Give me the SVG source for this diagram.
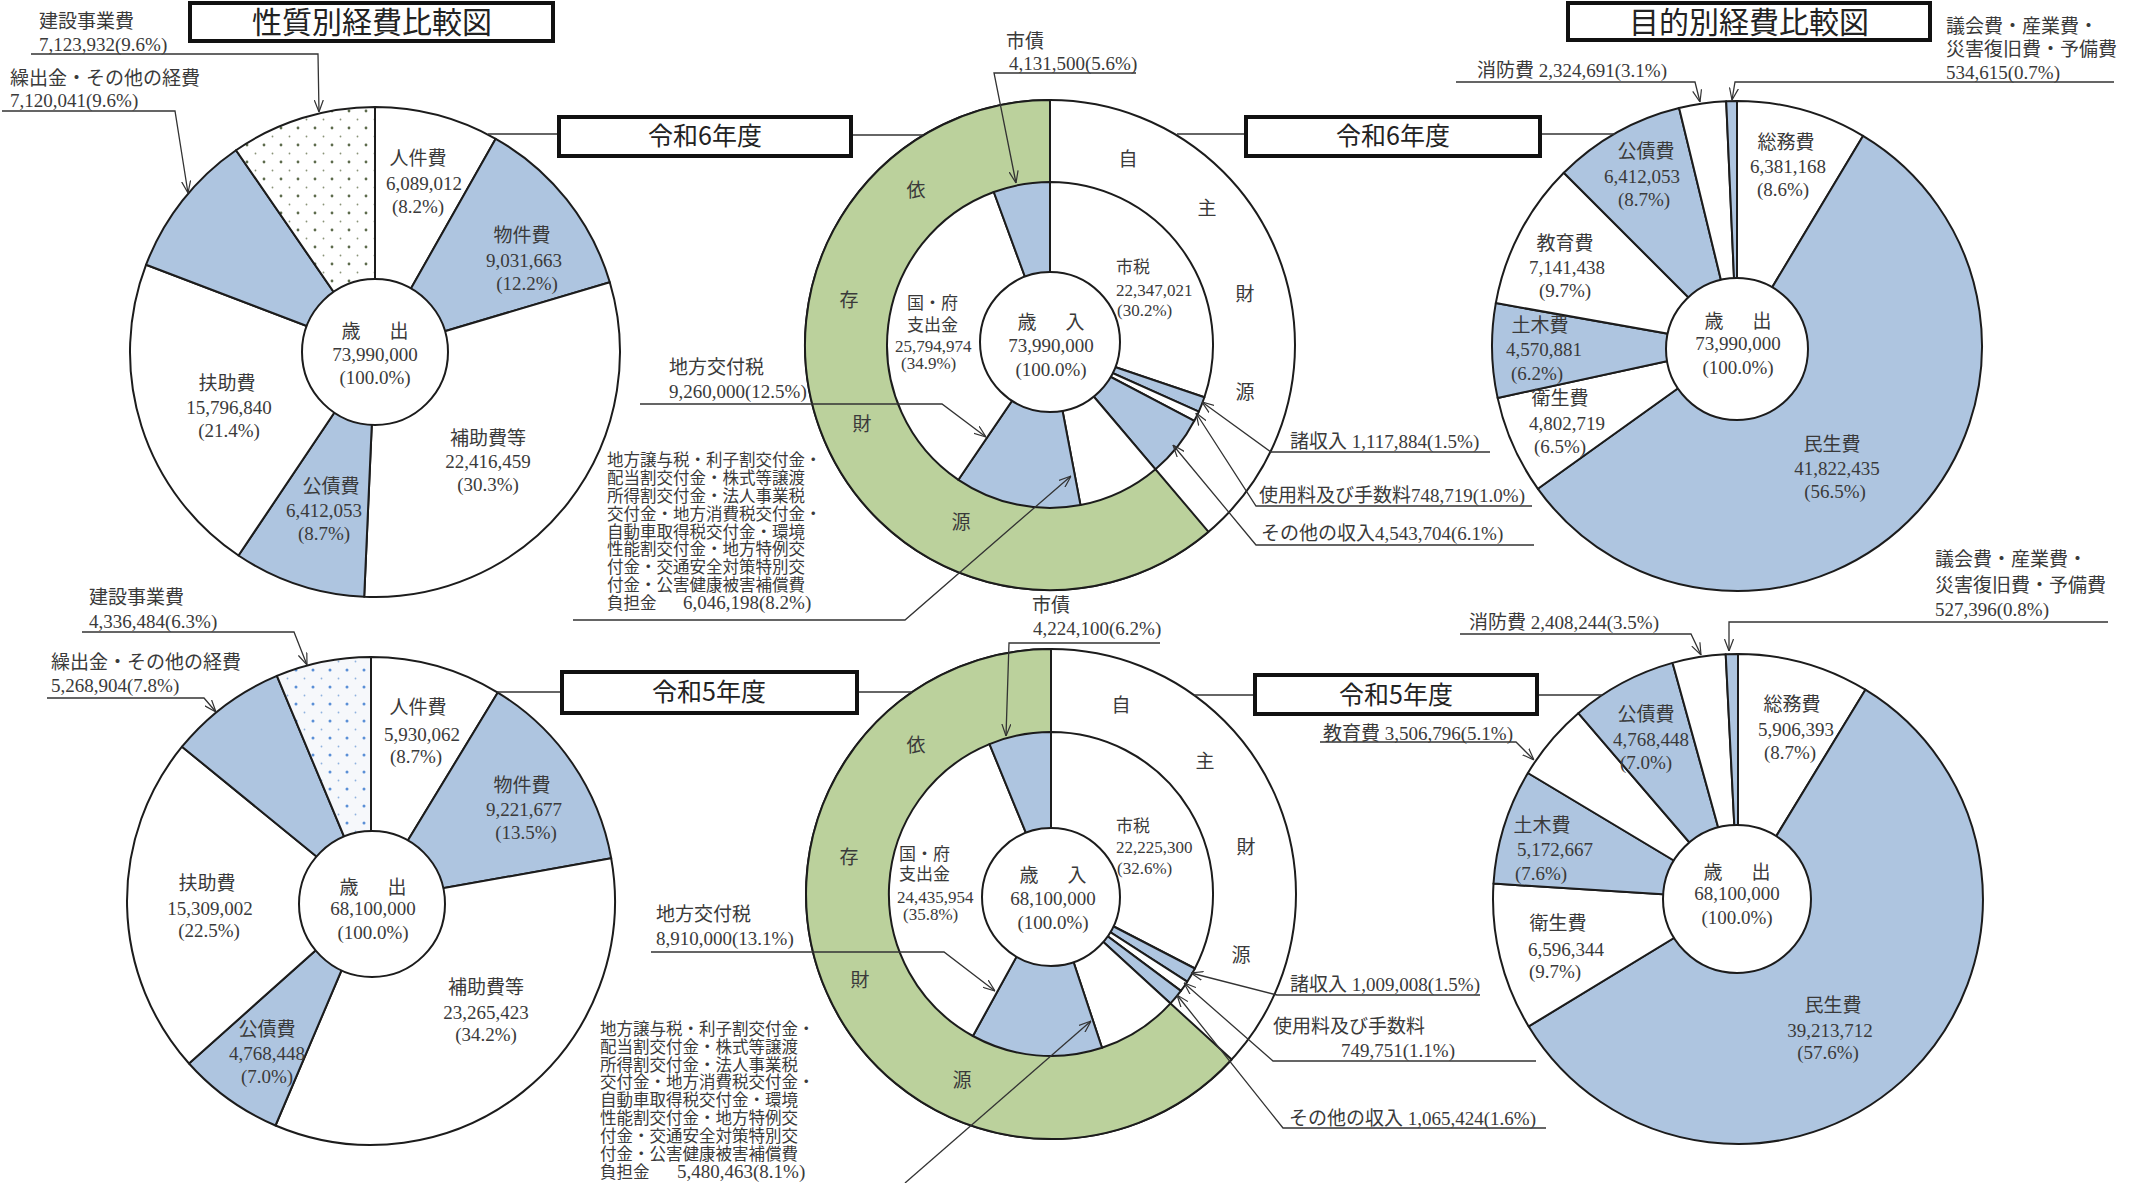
<svg xmlns="http://www.w3.org/2000/svg" width="2129" height="1183" viewBox="0 0 2129 1183">
<defs>
<style>
.s{stroke:#1c1c1c;stroke-width:2;stroke-linejoin:round}
.w{fill:#fff}.b{fill:#aec5e0}.g{fill:#bbd19c}
.t{font-family:"Liberation Serif","Noto Sans CJK JP",serif;font-size:19px;fill:#3a3a3a}
.m{text-anchor:middle}
.k{font-size:17px}
.blk{font-family:"Noto Sans CJK JP","Liberation Serif",sans-serif;font-size:16.5px;fill:#3a3a3a}
.ttl{font-family:"Noto Sans CJK JP",sans-serif;font-size:30px;fill:#222;text-anchor:middle}
.yr{font-family:"Noto Sans CJK JP",sans-serif;font-size:25px;fill:#222;text-anchor:middle}
.box{fill:#fff;stroke:#111;stroke-width:4}
.ln{fill:none;stroke:#333;stroke-width:1.3}
.ul{fill:none;stroke:#444;stroke-width:1.6}
.ar{marker-end:url(#ah)}
</style>
<marker id="ah" viewBox="0 0 12 10" refX="12" refY="5" markerWidth="12" markerHeight="10" markerUnits="userSpaceOnUse" orient="auto"><path d="M0,0.5 L12,5 L0,9.5" fill="none" stroke="#333" stroke-width="1.2"/></marker>
<pattern id="dotG" width="17" height="17" patternUnits="userSpaceOnUse" x="5" y="5"><rect width="17" height="17" fill="#fff"/><circle cx="4" cy="4" r="1.4" fill="#5d6b4c"/><circle cx="12.5" cy="12.5" r="0.9" fill="#8a9478"/></pattern>
<pattern id="dotB" width="17" height="17" patternUnits="userSpaceOnUse" x="3" y="3"><rect width="17" height="17" fill="#f6f8fb"/><circle cx="4" cy="4" r="1.5" fill="#5a8fd6"/><circle cx="12.5" cy="12.5" r="0.9" fill="#8fb2df"/></pattern>
</defs>
<rect width="2129" height="1183" fill="#fff"/>

<g id="title-left"><rect class="box" x="190" y="3" width="363" height="38"/><text class="ttl" x="372" y="33">性質別経費比較図</text></g>
<g id="title-right"><rect class="box" x="1568" y="3" width="362" height="37"/><text class="ttl" x="1749" y="33">目的別経費比較図</text></g>

<!-- Chart A -->
<g id="pie-seishitsu-r6">
<path class="s w" d="M375,352 L375,107 A245,245 0 0 1 495.7,138.8 Z"/>
<path class="s b" d="M375,352 L495.7,138.8 A245,245 0 0 1 609.8,282.2 Z"/>
<path class="s w" d="M375,352 L609.8,282.2 A245,245 0 0 1 364.2,596.8 Z"/>
<path class="s b" d="M375,352 L364.2,596.8 A245,245 0 0 1 238.5,555.5 Z"/>
<path class="s w" d="M375,352 L238.5,555.5 A245,245 0 0 1 146.1,264.7 Z"/>
<path class="s b" d="M375,352 L146.1,264.7 A245,245 0 0 1 236.0,150.2 Z"/>
<path class="s" fill="url(#dotG)" d="M375,352 L236.0,150.2 A245,245 0 0 1 375,107 Z"/>
<circle class="s w" cx="375" cy="352" r="73"/>
<text class="t m" x="418" y="165">人件費</text><text class="t m" x="424" y="190">6,089,012</text><text class="t m" x="418" y="213">(8.2%)</text>
<text class="t m" x="522" y="242">物件費</text><text class="t m" x="524" y="267">9,031,663</text><text class="t m" x="527" y="290">(12.2%)</text>
<text class="t m"><tspan x="351" y="338">歳</tspan><tspan x="399" y="338">出</tspan></text><text class="t m" x="375" y="361">73,990,000</text><text class="t m" x="375" y="384">(100.0%)</text>
<text class="t m" x="227" y="390">扶助費</text><text class="t m" x="229" y="414">15,796,840</text><text class="t m" x="229" y="437">(21.4%)</text>
<text class="t m" x="488" y="445">補助費等</text><text class="t m" x="488" y="468">22,416,459</text><text class="t m" x="488" y="491">(30.3%)</text>
<text class="t m" x="331" y="493">公債費</text><text class="t m" x="324" y="517">6,412,053</text><text class="t m" x="324" y="540">(8.7%)</text>
<text class="t" x="39" y="28">建設事業費</text><text class="t" x="39" y="51">7,123,932(9.6%)</text>
<text class="t" x="10" y="85">繰出金・その他の経費</text><text class="t" x="10" y="107">7,120,041(9.6%)</text>
</g>

<!-- Chart B -->
<g id="donut-sainyu-r6">
<circle class="s w" cx="1050" cy="345" r="245"/>
<path class="s g" d="M1050,345 L1208.5,531.8 A245,245 0 1 1 1050,100 Z"/>
<path class="s w" d="M1050,345 L1050,182 A163,163 0 0 1 1204.4,397.3 Z"/>
<path class="s b" d="M1050,345 L1204.4,397.3 A163,163 0 0 1 1198.8,411.6 Z"/>
<path class="s w" d="M1050,345 L1198.8,411.6 A163,163 0 0 1 1194.3,420.8 Z"/>
<path class="s b" d="M1050,345 L1194.3,420.8 A163,163 0 0 1 1155.5,469.3 Z"/>
<path class="s w" d="M1050,345 L1155.5,469.3 A163,163 0 0 1 1080.5,505.1 Z"/>
<path class="s b" d="M1050,345 L1080.5,505.1 A163,163 0 0 1 958.4,479.8 Z"/>
<path class="s w" d="M1050,345 L958.4,479.8 A163,163 0 0 1 993.8,192.0 Z"/>
<path class="s b" d="M1050,345 L993.8,192.0 A163,163 0 0 1 1050,182 Z"/>
<circle class="s w" cx="1050" cy="342" r="70"/>
<text class="t m" x="1128" y="166">自</text><text class="t m" x="1207" y="215">主</text><text class="t m" x="1245" y="301">財</text><text class="t m" x="1245" y="399">源</text>
<text class="t m" x="916" y="197">依</text><text class="t m" x="849" y="307">存</text><text class="t m" x="862" y="431">財</text><text class="t m" x="961" y="529">源</text>
<text class="t k" x="1116" y="273">市税</text><text class="t k" x="1116" y="296">22,347,021</text><text class="t k" x="1117" y="316">(30.2%)</text>
<text class="t k" x="907" y="309">国・府</text><text class="t k" x="907" y="331">支出金</text><text class="t k" x="895" y="352">25,794,974</text><text class="t k" x="901" y="369">(34.9%)</text>
<text class="t m"><tspan x="1027" y="329">歳</tspan><tspan x="1075" y="329">入</tspan></text><text class="t m" x="1051" y="352">73,990,000</text><text class="t m" x="1051" y="376">(100.0%)</text>
<text class="t" x="1006" y="48">市債</text><text class="t" x="1009" y="70">4,131,500(5.6%)</text>
<text class="t" x="669" y="374">地方交付税</text><text class="t" x="669" y="398">9,260,000(12.5%)</text>
<text class="blk"><tspan x="607" y="466">地方譲与税・利子割交付金・</tspan><tspan x="607" y="484">配当割交付金・株式等譲渡</tspan><tspan x="607" y="502">所得割交付金・法人事業税</tspan><tspan x="607" y="520">交付金・地方消費税交付金・</tspan><tspan x="607" y="538">自動車取得税交付金・環境</tspan><tspan x="607" y="555">性能割交付金・地方特例交</tspan><tspan x="607" y="573">付金・交通安全対策特別交</tspan><tspan x="607" y="591">付金・公害健康被害補償費</tspan><tspan x="607" y="609">負担金</tspan></text>
<text class="t" x="683" y="609">6,046,198(8.2%)</text>
<text class="t" x="1290" y="448">諸収入 1,117,884(1.5%)</text>
<text class="t" x="1259" y="502">使用料及び手数料748,719(1.0%)</text>
<text class="t" x="1261" y="540">その他の収入4,543,704(6.1%)</text>
</g>

<!-- Chart C -->
<g id="pie-mokuteki-r6">
<path class="s w" d="M1737,346 L1737,101 A245,245 0 0 1 1863.0,135.9 Z"/>
<path class="s b" d="M1737,346 L1863.0,135.9 A245,245 0 1 1 1537.9,488.8 Z"/>
<path class="s w" d="M1737,346 L1537.9,488.8 A245,245 0 0 1 1497.6,397.9 Z"/>
<path class="s b" d="M1737,346 L1497.6,397.9 A245,245 0 0 1 1495.8,303.1 Z"/>
<path class="s w" d="M1737,346 L1495.8,303.1 A245,245 0 0 1 1563.8,172.8 Z"/>
<path class="s b" d="M1737,346 L1563.8,172.8 A245,245 0 0 1 1679.1,108.0 Z"/>
<path class="s w" d="M1737,346 L1679.1,108.0 A245,245 0 0 1 1726.2,101.2 Z"/>
<path class="s b" d="M1737,346 L1726.2,101.2 A245,245 0 0 1 1737,101 Z"/>
<circle class="s w" cx="1737" cy="349" r="71"/>
<text class="t m" x="1786" y="149">総務費</text><text class="t m" x="1788" y="173">6,381,168</text><text class="t m" x="1783" y="196">(8.6%)</text>
<text class="t m" x="1646" y="158">公債費</text><text class="t m" x="1642" y="183">6,412,053</text><text class="t m" x="1644" y="206">(8.7%)</text>
<text class="t m" x="1565" y="250">教育費</text><text class="t m" x="1567" y="274">7,141,438</text><text class="t m" x="1565" y="297">(9.7%)</text>
<text class="t m" x="1540" y="332">土木費</text><text class="t m" x="1544" y="356">4,570,881</text><text class="t m" x="1537" y="380">(6.2%)</text>
<text class="t m" x="1560" y="405">衛生費</text><text class="t m" x="1567" y="430">4,802,719</text><text class="t m" x="1560" y="453">(6.5%)</text>
<text class="t m" x="1832" y="451">民生費</text><text class="t m" x="1837" y="475">41,822,435</text><text class="t m" x="1835" y="498">(56.5%)</text>
<text class="t m"><tspan x="1714" y="328">歳</tspan><tspan x="1762" y="328">出</tspan></text><text class="t m" x="1738" y="350">73,990,000</text><text class="t m" x="1738" y="374">(100.0%)</text>
<text class="t" x="1477" y="77">消防費 2,324,691(3.1%)</text>
<text class="t" x="1946" y="33">議会費・産業費・</text><text class="t" x="1946" y="56">災害復旧費・予備費</text><text class="t" x="1946" y="79">534,615(0.7%)</text>
</g>

<!-- Chart D -->
<g id="pie-seishitsu-r5">
<path class="s w" d="M371,901 L371,657 A244,244 0 0 1 497.8,692.6 Z"/>
<path class="s b" d="M371,901 L497.8,692.6 A244,244 0 0 1 611.2,858.3 Z"/>
<path class="s w" d="M371,901 L611.2,858.3 A244,244 0 0 1 275.5,1125.5 Z"/>
<path class="s b" d="M371,901 L275.5,1125.5 A244,244 0 0 1 189.0,1063.5 Z"/>
<path class="s w" d="M371,901 L189.0,1063.5 A244,244 0 0 1 182.0,746.7 Z"/>
<path class="s b" d="M371,901 L182.0,746.7 A244,244 0 0 1 276.9,675.9 Z"/>
<path class="s" fill="url(#dotB)" d="M371,901 L276.9,675.9 A244,244 0 0 1 371,657 Z"/>
<circle class="s w" cx="372" cy="904" r="73"/>
<text class="t m" x="418" y="714">人件費</text><text class="t m" x="422" y="741">5,930,062</text><text class="t m" x="416" y="763">(8.7%)</text>
<text class="t m" x="522" y="792">物件費</text><text class="t m" x="524" y="816">9,221,677</text><text class="t m" x="526" y="839">(13.5%)</text>
<text class="t m"><tspan x="349" y="894">歳</tspan><tspan x="397" y="894">出</tspan></text><text class="t m" x="373" y="915">68,100,000</text><text class="t m" x="373" y="939">(100.0%)</text>
<text class="t m" x="207" y="890">扶助費</text><text class="t m" x="210" y="915">15,309,002</text><text class="t m" x="209" y="937">(22.5%)</text>
<text class="t m" x="486" y="994">補助費等</text><text class="t m" x="486" y="1019">23,265,423</text><text class="t m" x="486" y="1041">(34.2%)</text>
<text class="t m" x="267" y="1036">公債費</text><text class="t m" x="267" y="1060">4,768,448</text><text class="t m" x="267" y="1083">(7.0%)</text>
<text class="t" x="89" y="604">建設事業費</text><text class="t" x="89" y="628">4,336,484(6.3%)</text>
<text class="t" x="51" y="669">繰出金・その他の経費</text><text class="t" x="51" y="692">5,268,904(7.8%)</text>
</g>

<!-- Chart E -->
<g id="donut-sainyu-r5">
<circle class="s w" cx="1051" cy="894" r="245"/>
<path class="s g" d="M1051,894 L1231.7,1059.5 A245,245 0 1 1 1051,649 Z"/>
<path class="s w" d="M1051,894 L1051,732 A162,162 0 0 1 1194.9,968.5 Z"/>
<path class="s b" d="M1051,894 L1194.9,968.5 A162,162 0 0 1 1187.2,981.7 Z"/>
<path class="s w" d="M1051,894 L1187.2,981.7 A162,162 0 0 1 1180.9,990.9 Z"/>
<path class="s b" d="M1051,894 L1180.9,990.9 A162,162 0 0 1 1170.5,1003.4 Z"/>
<path class="s w" d="M1051,894 L1170.5,1003.4 A162,162 0 0 1 1102.0,1047.8 Z"/>
<path class="s b" d="M1051,894 L1102.0,1047.8 A162,162 0 0 1 972.9,1036.0 Z"/>
<path class="s w" d="M1051,894 L972.9,1036.0 A162,162 0 0 1 989.5,744.1 Z"/>
<path class="s b" d="M1051,894 L989.5,744.1 A162,162 0 0 1 1051,732 Z"/>
<circle class="s w" cx="1051" cy="897" r="69"/>
<text class="t m" x="1121" y="712">自</text><text class="t m" x="1205" y="768">主</text><text class="t m" x="1246" y="854">財</text><text class="t m" x="1241" y="962">源</text>
<text class="t m" x="916" y="752">依</text><text class="t m" x="849" y="864">存</text><text class="t m" x="860" y="987">財</text><text class="t m" x="962" y="1087">源</text>
<text class="t k" x="1116" y="832">市税</text><text class="t k" x="1116" y="853">22,225,300</text><text class="t k" x="1117" y="874">(32.6%)</text>
<text class="t k" x="899" y="860">国・府</text><text class="t k" x="899" y="880">支出金</text><text class="t k" x="897" y="903">24,435,954</text><text class="t k" x="903" y="920">(35.8%)</text>
<text class="t m"><tspan x="1029" y="882">歳</tspan><tspan x="1077" y="882">入</tspan></text><text class="t m" x="1053" y="905">68,100,000</text><text class="t m" x="1053" y="929">(100.0%)</text>
<text class="t" x="1032" y="612">市債</text><text class="t" x="1033" y="635">4,224,100(6.2%)</text>
<text class="t" x="656" y="921">地方交付税</text><text class="t" x="656" y="945">8,910,000(13.1%)</text>
<text class="blk"><tspan x="600" y="1035">地方譲与税・利子割交付金・</tspan><tspan x="600" y="1053">配当割交付金・株式等譲渡</tspan><tspan x="600" y="1071">所得割交付金・法人事業税</tspan><tspan x="600" y="1088">交付金・地方消費税交付金・</tspan><tspan x="600" y="1106">自動車取得税交付金・環境</tspan><tspan x="600" y="1124">性能割交付金・地方特例交</tspan><tspan x="600" y="1142">付金・交通安全対策特別交</tspan><tspan x="600" y="1160">付金・公害健康被害補償費</tspan><tspan x="600" y="1178">負担金</tspan></text>
<text class="t" x="677" y="1178">5,480,463(8.1%)</text>
<text class="t" x="1290" y="991">諸収入 1,009,008(1.5%)</text>
<text class="t" x="1273" y="1033">使用料及び手数料</text><text class="t" x="1341" y="1057">749,751(1.1%)</text>
<text class="t" x="1289" y="1125">その他の収入 1,065,424(1.6%)</text>
</g>

<!-- Chart F -->
<g id="pie-mokuteki-r5">
<path class="s w" d="M1738,899 L1738,654 A245,245 0 0 1 1865.4,689.7 Z"/>
<path class="s b" d="M1738,899 L1865.4,689.7 A245,245 0 1 1 1528.7,1026.4 Z"/>
<path class="s w" d="M1738,899 L1528.7,1026.4 A245,245 0 0 1 1493.5,883.6 Z"/>
<path class="s b" d="M1738,899 L1493.5,883.6 A245,245 0 0 1 1527.9,773.0 Z"/>
<path class="s w" d="M1738,899 L1527.9,773.0 A245,245 0 0 1 1578.3,713.2 Z"/>
<path class="s b" d="M1738,899 L1578.3,713.2 A245,245 0 0 1 1672.6,662.9 Z"/>
<path class="s w" d="M1738,899 L1672.6,662.9 A245,245 0 0 1 1725.7,654.3 Z"/>
<path class="s b" d="M1738,899 L1725.7,654.3 A245,245 0 0 1 1738,654 Z"/>
<circle class="s w" cx="1737" cy="899" r="74"/>
<text class="t m" x="1792" y="711">総務費</text><text class="t m" x="1796" y="736">5,906,393</text><text class="t m" x="1790" y="759">(8.7%)</text>
<text class="t m" x="1646" y="721">公債費</text><text class="t m" x="1651" y="746">4,768,448</text><text class="t m" x="1646" y="769">(7.0%)</text>
<text class="t m" x="1542" y="832">土木費</text><text class="t m" x="1555" y="856">5,172,667</text><text class="t m" x="1541" y="880">(7.6%)</text>
<text class="t m" x="1558" y="930">衛生費</text><text class="t m" x="1566" y="956">6,596,344</text><text class="t m" x="1555" y="978">(9.7%)</text>
<text class="t m" x="1833" y="1012">民生費</text><text class="t m" x="1830" y="1037">39,213,712</text><text class="t m" x="1828" y="1059">(57.6%)</text>
<text class="t m"><tspan x="1713" y="879">歳</tspan><tspan x="1761" y="879">出</tspan></text><text class="t m" x="1737" y="900">68,100,000</text><text class="t m" x="1737" y="924">(100.0%)</text>
<text class="t" x="1935" y="566">議会費・産業費・</text><text class="t" x="1935" y="592">災害復旧費・予備費</text><text class="t" x="1935" y="616">527,396(0.8%)</text>
<text class="t" x="1469" y="629">消防費 2,408,244(3.5%)</text>
<text class="t" x="1323" y="740">教育費 3,506,796(5.1%)</text>
</g>

<g id="connectors">
<polyline class="ln ar" points="31,54 318,54 319,112"/>
<polyline class="ln ar" points="2,111 175,111 188,193"/>
<polyline class="ln ar" points="1136,73 994,73 1016,183"/>
<polyline class="ln ar" points="640,404 942,404 986,437"/>
<polyline class="ln ar" points="573,620 905,620 1071,476"/>
<polyline class="ln ar" points="1490,452 1271,452 1202,402"/>
<polyline class="ln ar" points="1532,506 1256,506 1196,413"/>
<polyline class="ln ar" points="1534,545 1256,545 1173,445"/>
<polyline class="ln ar" points="1456,82 1695,82 1700,102"/>
<polyline class="ln ar" points="2114,82 1735,82 1732,100"/>
<polyline class="ln ar" points="82,632 294,632 307,665"/>
<polyline class="ln ar" points="47,698 204,698 216,712"/>
<polyline class="ln ar" points="1160,643 1009,643 1006,736"/>
<polyline class="ln ar" points="651,952 944,952 995,991"/>
<polyline class="ln ar" points="905,1183 1091,1021"/>
<polyline class="ln ar" points="1480,995 1277,995 1191,973"/>
<polyline class="ln ar" points="1536,1061 1273,1061 1184,983"/>
<polyline class="ln ar" points="1546,1128 1283,1128 1177,995"/>
<polyline class="ln ar" points="2108,622 1729,622 1729,651"/>
<polyline class="ln ar" points="1460,634 1691,634 1701,655"/>
<polyline class="ln ar" points="1320,742 1516,742 1534,760"/>
<line class="ln" x1="488" y1="134" x2="559" y2="134"/>
<line class="ln" x1="851" y1="135" x2="923" y2="135"/>
<line class="ln" x1="1177" y1="134" x2="1246" y2="134"/>
<line class="ln" x1="1540" y1="134" x2="1615" y2="134"/>
<line class="ln" x1="497" y1="692" x2="562" y2="692"/>
<line class="ln" x1="857" y1="692" x2="912" y2="692"/>
<line class="ln" x1="1194" y1="695" x2="1255" y2="695"/>
<line class="ln" x1="1537" y1="695" x2="1602" y2="695"/>
</g>

<g id="year-r6-left"><rect class="box" x="559" y="117" width="292" height="39"/><text class="yr" x="705" y="145">令和6年度</text></g>
<g id="year-r6-right"><rect class="box" x="1246" y="117" width="294" height="39"/><text class="yr" x="1393" y="145">令和6年度</text></g>
<g id="year-r5-left"><rect class="box" x="562" y="672" width="295" height="41"/><text class="yr" x="709" y="701">令和5年度</text></g>
<g id="year-r5-right"><rect class="box" x="1255" y="675" width="282" height="39"/><text class="yr" x="1396" y="704">令和5年度</text></g>
</svg>
